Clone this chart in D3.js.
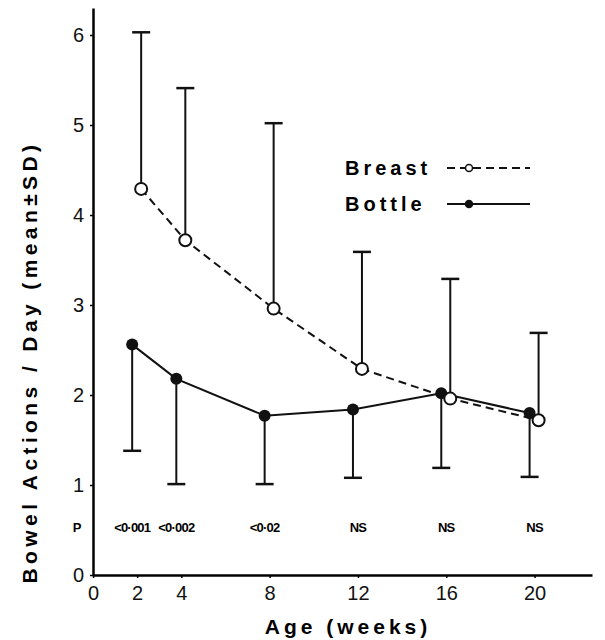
<!DOCTYPE html>
<html>
<head>
<meta charset="utf-8">
<script src="https://cdn.jsdelivr.net/npm/d3@7"></script>
<style>
  body { margin: 0; background: #fff; }
  svg { font-family: "Liberation Sans", Arial, sans-serif; }
</style>
</head>
<body>
<svg id="chart"></svg>
<script>
// values
const weeks = [2, 4, 8, 12, 16, 20];
const breastMean = [4.29, 3.72, 2.96, 2.29, 1.96, 1.72];
const breastUpper = [6.03, 5.41, 5.02, 3.59, 3.29, 2.69];
const bottleMean = [2.56, 2.18, 1.77, 1.84, 2.02, 1.80];
const bottleLower = [1.38, 1.01, 1.01, 1.08, 1.19, 1.09];
const pValues = ["<0·001", "<0·002", "<0·02", "NS", "NS", "NS"];
const xTicks = [0, 2, 4, 8, 12, 16, 20];
const yTicks = [0, 1, 2, 3, 4, 5, 6];

function main() {
    let width = 605;
    let height = 640;
    let svg = d3.select("#chart")
        .attr("width", width)
        .attr("height", height);

    // scales - pixel ranges matched to the scanned figure
    let x = d3.scaleLinear().domain([0, 22.6]).range([93, 592]);
    let y = d3.scaleLinear().domain([0, 6.3]).range([575, 8]);

    // small horizontal dodge so the two groups don't sit on top of each other
    const dodgeBottle = -5;
    const dodgeBreast = 4;

    let breast = weeks.map((w, i) => ({ w: w, m: breastMean[i], e: breastUpper[i] }));
    let bottle = weeks.map((w, i) => ({ w: w, m: bottleMean[i], e: bottleLower[i] }));

    // axes
    let xAxis = d3.axisBottom(x).tickValues(xTicks).tickSize(3).tickSizeOuter(0);
    let gx = svg.append("g")
        .attr("transform", "translate(0," + y(0) + ")")
        .call(xAxis);
    gx.select(".domain").attr("stroke-width", 2.5);
    gx.selectAll(".tick line").attr("stroke-width", 1.5);
    gx.selectAll(".tick text")
        .attr("font-size", 20)
        .attr("dy", "0.95em")
        .attr("fill", "#111");

    let yAxis = d3.axisLeft(y).tickValues(yTicks).tickFormat(d3.format("d"))
        .tickSize(3).tickSizeOuter(0);
    let gy = svg.append("g")
        .attr("transform", "translate(" + x(0) + ",0)")
        .call(yAxis);
    gy.select(".domain").attr("stroke-width", 2.5);
    gy.selectAll(".tick line").attr("stroke-width", 1.5);
    gy.selectAll(".tick text")
        .attr("font-size", 20)
        .attr("x", -9)
        .attr("fill", "#111");

    // axis titles
    svg.append("text")
        .attr("x", 348)
        .attr("y", 634)
        .attr("text-anchor", "middle")
        .attr("font-size", 21)
        .attr("font-weight", "bold")
        .attr("letter-spacing", 4)
        .text("Age (weeks)");

    svg.append("text")
        .attr("transform", "translate(37,362) rotate(-90)")
        .attr("text-anchor", "middle")
        .attr("font-size", 21)
        .attr("font-weight", "bold")
        .attr("letter-spacing", 4.4)
        .text("Bowel Actions / Day (mean±SD)");

    // P row
    svg.append("text")
        .attr("x", 77)
        .attr("y", 532)
        .attr("text-anchor", "middle")
        .attr("font-size", 13)
        .attr("font-weight", "bold")
        .text("P");

    svg.selectAll(".pval")
        .data(pValues)
        .join("text")
        .attr("class", "pval")
        .attr("x", (d, i) => x(weeks[i]) - (i < 3 ? 5 : 0))
        .attr("y", 532)
        .attr("text-anchor", "middle")
        .attr("font-size", 13)
        .attr("letter-spacing", -0.8)
        .attr("font-weight", "bold")
        .text(d => d);

    // error bars
    function errorBars(data, dodge, cls) {
        let g = svg.append("g").attr("class", cls);
        g.selectAll("line.stem")
            .data(data)
            .join("line")
            .attr("class", "stem")
            .attr("x1", d => x(d.w) + dodge)
            .attr("x2", d => x(d.w) + dodge)
            .attr("y1", d => y(d.m))
            .attr("y2", d => y(d.e))
            .attr("stroke", "#111")
            .attr("stroke-width", 2);
        g.selectAll("line.cap")
            .data(data)
            .join("line")
            .attr("class", "cap")
            .attr("x1", d => x(d.w) + dodge - 9)
            .attr("x2", d => x(d.w) + dodge + 9)
            .attr("y1", d => y(d.e))
            .attr("y2", d => y(d.e))
            .attr("stroke", "#111")
            .attr("stroke-width", 2.5);
    }
    errorBars(breast, dodgeBreast, "breast-err");
    errorBars(bottle, dodgeBottle, "bottle-err");

    // lines
    let breastLine = d3.line().x(d => x(d.w) + dodgeBreast).y(d => y(d.m));
    let bottleLine = d3.line().x(d => x(d.w) + dodgeBottle).y(d => y(d.m));

    svg.append("path")
        .datum(breast)
        .attr("d", breastLine)
        .attr("fill", "none")
        .attr("stroke", "#111")
        .attr("stroke-width", 2)
        .attr("stroke-dasharray", "8,5");

    svg.append("path")
        .datum(bottle)
        .attr("d", bottleLine)
        .attr("fill", "none")
        .attr("stroke", "#111")
        .attr("stroke-width", 2);

    // markers
    svg.selectAll("circle.bottle")
        .data(bottle)
        .join("circle")
        .attr("class", "bottle")
        .attr("cx", d => x(d.w) + dodgeBottle)
        .attr("cy", d => y(d.m))
        .attr("r", 6)
        .attr("fill", "#111");

    svg.selectAll("circle.breast")
        .data(breast)
        .join("circle")
        .attr("class", "breast")
        .attr("cx", d => x(d.w) + dodgeBreast)
        .attr("cy", d => y(d.m))
        .attr("r", 6)
        .attr("fill", "#fff")
        .attr("stroke", "#111")
        .attr("stroke-width", 2);

    // legend
    let legend = svg.append("g").attr("class", "legend");
    let items = [
        { name: "Breast", dash: "8,5", filled: false, cy: 168 },
        { name: "Bottle", dash: null, filled: true, cy: 204 }
    ];
    items.forEach(function(it) {
        legend.append("text")
            .attr("x", 345)
            .attr("y", it.cy + 7)
            .attr("font-size", 20)
            .attr("font-weight", "bold")
            .attr("letter-spacing", 4)
            .text(it.name);
        legend.append("line")
            .attr("x1", 447)
            .attr("x2", 530)
            .attr("y1", it.cy)
            .attr("y2", it.cy)
            .attr("stroke", "#111")
            .attr("stroke-width", 2)
            .attr("stroke-dasharray", it.dash);
        legend.append("circle")
            .attr("cx", 469)
            .attr("cy", it.cy)
            .attr("r", 3.5)
            .attr("fill", it.filled ? "#111" : "#fff")
            .attr("stroke", "#111")
            .attr("stroke-width", 1.5);
    });
}

main();
</script>
</body>
</html>
